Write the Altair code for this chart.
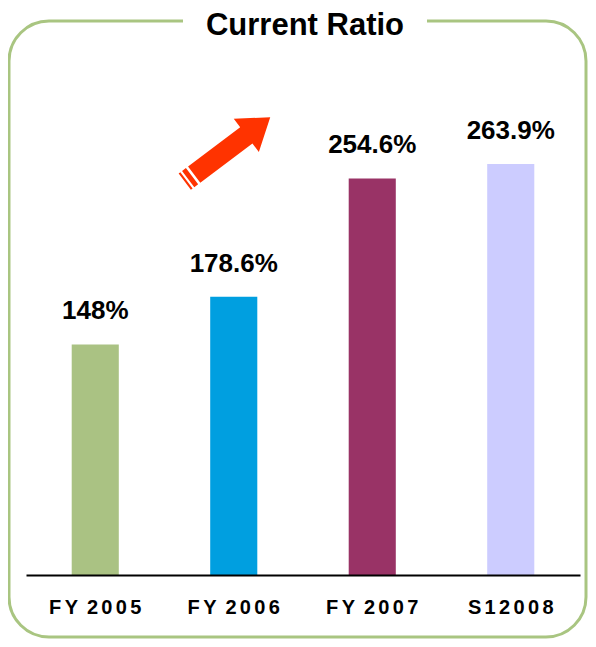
import json
import altair as alt
import pandas as pd

categories = ["FY 2005", "FY 2006", "FY 2007", "S1 2008"]
values = [148.0, 178.6, 254.6, 263.9]
value_labels = ["148%", "178.6%", "254.6%", "263.9%"]
bar_colors = ["#aac283", "#009fe0", "#993366", "#ccccff"]
HS = "\u200a\u200a"
tick_labels = [
    HS.join(["F", "Y"]) + HS + " " + HS.join(list("2005")),
    HS.join(["F", "Y"]) + HS + " " + HS.join(list("2006")),
    HS.join(["F", "Y"]) + HS + " " + HS.join(list("2007")),
    HS.join(["S", "1"]) + HS + HS.join(list("2008")),
]

FONT = "Liberation Sans"
BORDER = "#a9c581"

df = pd.DataFrame({"cat": categories, "val": values, "lab": value_labels, "col": bar_colors})
label_map = dict(zip(categories, tick_labels))
label_expr = json.dumps(label_map, ensure_ascii=False) + "[datum.value]"

x = alt.X("cat:N", sort=categories, title=None,
          scale=alt.Scale(range=[18, 572], paddingInner=0.66, paddingOuter=0.33),
          axis=alt.Axis(labelAngle=0, domainColor="black", domainWidth=2, ticks=False,
                        labelFont=FONT, labelFontSize=20, labelFontWeight="bold",
                        labelColor="black", labelPadding=22, labelExpr=label_expr,
                        zindex=1))
y = alt.Y("val:Q", scale=alt.Scale(domain=[0, 364], nice=False), axis=None)

# decorations: border, title, arrow
deco = pd.DataFrame({"k": [0]})
border = alt.Chart(deco).mark_rect(
    fill="transparent", stroke=BORDER, strokeWidth=3, cornerRadius=40
).encode(x=alt.value(1), x2=alt.value(578), y=alt.value(13), y2=alt.value(629))
gap = alt.Chart(deco).mark_rect(fill="white").encode(
    x=alt.value(175), x2=alt.value(419), y=alt.value(5), y2=alt.value(22))
title = alt.Chart(deco).mark_text(
    text="Current Ratio", font=FONT, fontSize=31, fontWeight="bold", color="black",
    align="center", baseline="alphabetic"
).encode(x=alt.value(297), y=alt.value(27))

arrow_path = ("M -0.78 -0.19 L 0.44 -0.19 L 0.44 -0.39 L 1 0 L 0.44 0.39 L 0.44 0.19 L -0.78 0.19 Z "
              "M -0.92 -0.19 L -0.83 -0.19 L -0.83 0.19 L -0.92 0.19 Z "
              "M -1 -0.19 L -0.96 -0.19 L -0.96 0.19 L -1 0.19 Z")
arrow = alt.Chart(deco).mark_point(
    shape=arrow_path, filled=True, fill="#ff3300", strokeWidth=0, opacity=1, size=11449, angle=323
).encode(x=alt.value(219.5), y=alt.value(141.5))

bars = alt.Chart(df).mark_bar().encode(
    x=x, y=y, color=alt.Color("col:N", scale=None))
labels = alt.Chart(df).mark_text(
    font=FONT, fontSize=26, fontWeight="bold", color="black", baseline="middle", dy=-33
).encode(x=alt.X("cat:N", sort=categories), y="val:Q", text="lab:N")

chart = alt.layer(border, gap, title, arrow, bars, labels).properties(
    width=580, height=567,
    padding={"left": 0, "top": 0, "right": 0, "bottom": 64},
    autosize=alt.AutoSizeParams(type="none"),
).configure_view(stroke=None)

chart.save("out.html", embed_options={"renderer": "svg", "actions": False})
